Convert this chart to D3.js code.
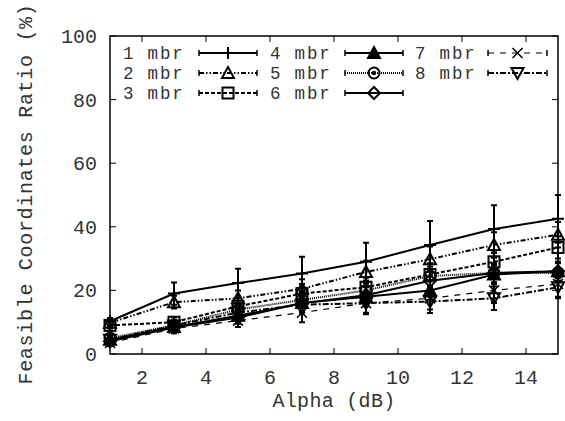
<!DOCTYPE html>
<meta charset="utf-8">
<style>
body { margin: 0; background: #fff; }
svg text { font-family: "Liberation Mono", "DejaVu Sans Mono", monospace; fill: #333; }
</style>
<svg id="chart" width="565" height="421"></svg>
<script src="https://d3js.org/d3.v7.min.js"></script>
<script>
// alpha values (dB)
var alpha = [1, 3, 5, 7, 9, 11, 13, 15];
var seriesNames = ["1 mbr", "2 mbr", "3 mbr", "4 mbr", "5 mbr", "6 mbr", "7 mbr", "8 mbr"];

// mean ratio (%) per series
var mbr1 = [10.3, 19, 22.3, 25.3, 29, 34.3, 39.3, 42.5];
var mbr2 = [9.8, 16.3, 17.5, 20.5, 25.8, 29.8, 34.3, 37.5];
var mbr3 = [9, 10, 15, 19, 21, 25, 29, 33.5];
var mbr4 = [4.5, 8.5, 12, 16, 18, 20, 25, 26];
var mbr5 = [5, 9, 14, 17, 20, 24.5, 25.5, 25.5];
var mbr6 = [4, 8.3, 11.5, 16, 18.5, 23, 25.5, 26];
var mbr7 = [3.5, 8, 10.5, 13, 16, 17.5, 20, 22];
var mbr8 = [4.5, 9, 13, 15.5, 16, 16.5, 17.5, 21];

// error (+/-)
var err1 = [1, 3.5, 4.5, 5.3, 6, 7.5, 7.5, 7.5];
var err2 = [1, 2, 2.5, 3, 3.5, 4, 4, 4];
var err3 = [1, 1.5, 2.5, 3, 3, 3.5, 3.5, 3.5];
var err4 = [1, 1.5, 2, 2.5, 3, 3, 3, 3];
var err5 = [1, 1.5, 2, 2.5, 3, 3, 3, 3];
var err6 = [1, 1.5, 2, 2.5, 3, 3, 3, 3];
var err7 = [1, 1.5, 2, 3, 3.5, 3.5, 4, 4];
var err8 = [1, 1.5, 2, 2.5, 3, 3.6, 3.7, 3.5];

var xTicks = [2, 4, 6, 8, 10, 12, 14];
var yTicks = [0, 20, 40, 60, 80, 100];

var means = [mbr1, mbr2, mbr3, mbr4, mbr5, mbr6, mbr7, mbr8];
var errs = [err1, err2, err3, err4, err5, err6, err7, err8];

var styles = [
  {dash: null, width: 2, marker: "plus"},
  {dash: "5,2,1.5,2,1.5,2", width: 2, marker: "triangle"},
  {dash: "4,2", width: 2, marker: "square"},
  {dash: null, width: 2, marker: "triangleFilled"},
  {dash: "1,1", width: 2, marker: "circle"},
  {dash: null, width: 2, marker: "diamond"},
  {dash: "6,6", width: 1.2, marker: "cross"},
  {dash: "6,2,2,2", width: 2, marker: "triangleDown"}
];

var svg = d3.select("#chart");
var margin = {left: 110, right: 7, top: 36, bottom: 67};
var W = 565, H = 421;

var x = d3.scaleLinear().domain([1, 15]).range([margin.left, W - margin.right]);
var y = d3.scaleLinear().domain([0, 100]).range([H - margin.bottom, margin.top]);

// frame
svg.append("rect")
  .attr("x", x(1)).attr("y", y(100))
  .attr("width", x(15) - x(1)).attr("height", y(0) - y(100))
  .attr("fill", "none").attr("stroke", "#000").attr("stroke-width", 1.5);

var tl = 6;
xTicks.forEach(function(t) {
  svg.append("line").attr("x1", x(t)).attr("x2", x(t)).attr("y1", y(0)).attr("y2", y(0) - tl).attr("stroke", "#000");
  svg.append("line").attr("x1", x(t)).attr("x2", x(t)).attr("y1", y(100)).attr("y2", y(100) + tl).attr("stroke", "#000");
  svg.append("text").attr("x", x(t)).attr("y", 384).attr("text-anchor", "middle")
    .attr("font-size", 20).text(t);
});
yTicks.forEach(function(t) {
  svg.append("line").attr("x1", x(1)).attr("x2", x(1) + tl).attr("y1", y(t)).attr("y2", y(t)).attr("stroke", "#000");
  svg.append("line").attr("x1", x(15)).attr("x2", x(15) - tl).attr("y1", y(t)).attr("y2", y(t)).attr("stroke", "#000");
  svg.append("text").attr("x", 97).attr("y", y(t) + 7).attr("text-anchor", "end")
    .attr("font-size", 20).text(t);
});

svg.append("text").attr("x", x(8)).attr("y", 407).attr("text-anchor", "middle")
  .attr("font-size", 20).attr("letter-spacing", 0.3).text("Alpha (dB)");
svg.append("text").attr("transform", "translate(32,194) rotate(-90)").attr("text-anchor", "middle")
  .attr("font-size", 20).attr("letter-spacing", 0.7).text("Feasible Coordinates Ratio (%)");

function drawMarker(g, type, cx, cy) {
  var s = 6;
  var m = g.append("g").attr("transform", "translate(" + cx + "," + cy + ")")
    .attr("stroke", "#000").attr("stroke-width", 2).attr("fill", "none");
  if (type === "plus") {
    m.append("path").attr("d", "M" + (-s) + ",0H" + s + "M0," + (-s) + "V" + s);
  } else if (type === "cross") {
    m.append("path").attr("d", "M-5,-5L5,5M-5,5L5,-5").attr("stroke-width", 1.5);
  } else if (type === "triangle") {
    m.append("path").attr("d", "M0,-6L6,5H-6Z");
  } else if (type === "triangleFilled") {
    m.append("path").attr("d", "M0,-6L6,5H-6Z").attr("fill", "#000");
  } else if (type === "triangleDown") {
    m.append("path").attr("d", "M0,6L6,-5H-6Z");
  } else if (type === "square") {
    m.append("rect").attr("x", -5.5).attr("y", -5.5).attr("width", 11).attr("height", 11);
  } else if (type === "circle") {
    m.append("circle").attr("r", 5.5);
    m.append("circle").attr("r", 1.2).attr("fill", "#000");
  } else if (type === "diamond") {
    m.append("path").attr("d", "M0,-6L6,0L0,6L-6,0Z");
  }
}

var line = d3.line().x(function(d, i) { return x(alpha[i]); }).y(function(d) { return y(d); });

means.forEach(function(vals, k) {
  var st = styles[k];
  var g = svg.append("g");
  g.append("path").datum(vals).attr("d", line)
    .attr("fill", "none").attr("stroke", "#000").attr("stroke-width", st.width)
    .attr("stroke-dasharray", st.dash);
  vals.forEach(function(v, i) {
    var e = errs[k][i];
    var xi = x(alpha[i]);
    g.append("path")
      .attr("d", "M" + xi + "," + y(v - e) + "V" + y(v + e) +
        "M" + (xi - 3) + "," + y(v - e) + "H" + (xi + 3) +
        "M" + (xi - 3) + "," + y(v + e) + "H" + (xi + 3))
      .attr("stroke", "#000").attr("stroke-width", 2).attr("fill", "none");
    drawMarker(g, st.marker, xi, y(v));
  });
});

// legend
var legCols = [123, 270, 415];
var legLine = [[199, 257], [345, 403], [488, 547]];
var legRows = [53, 73, 93];
seriesNames.forEach(function(name, k) {
  var c = Math.floor(k / 3), r = k % 3;
  var st = styles[k];
  var ly = legRows[r];
  var x1 = legLine[c][0], x2 = legLine[c][1];
  svg.append("text").attr("x", legCols[c]).attr("y", ly + 6).attr("font-size", 17.5)
    .attr("letter-spacing", 1.8).text(name);
  var g = svg.append("g");
  g.append("line").attr("x1", x1).attr("x2", x2).attr("y1", ly).attr("y2", ly)
    .attr("stroke", "#000").attr("stroke-width", st.width).attr("stroke-dasharray", st.dash);
  g.append("path").attr("d", "M" + x1 + "," + (ly - 3) + "V" + (ly + 3) + "M" + x2 + "," + (ly - 3) + "V" + (ly + 3))
    .attr("stroke", "#000").attr("stroke-width", 1.5);
  drawMarker(g, st.marker, (x1 + x2) / 2, ly);
});
</script>
